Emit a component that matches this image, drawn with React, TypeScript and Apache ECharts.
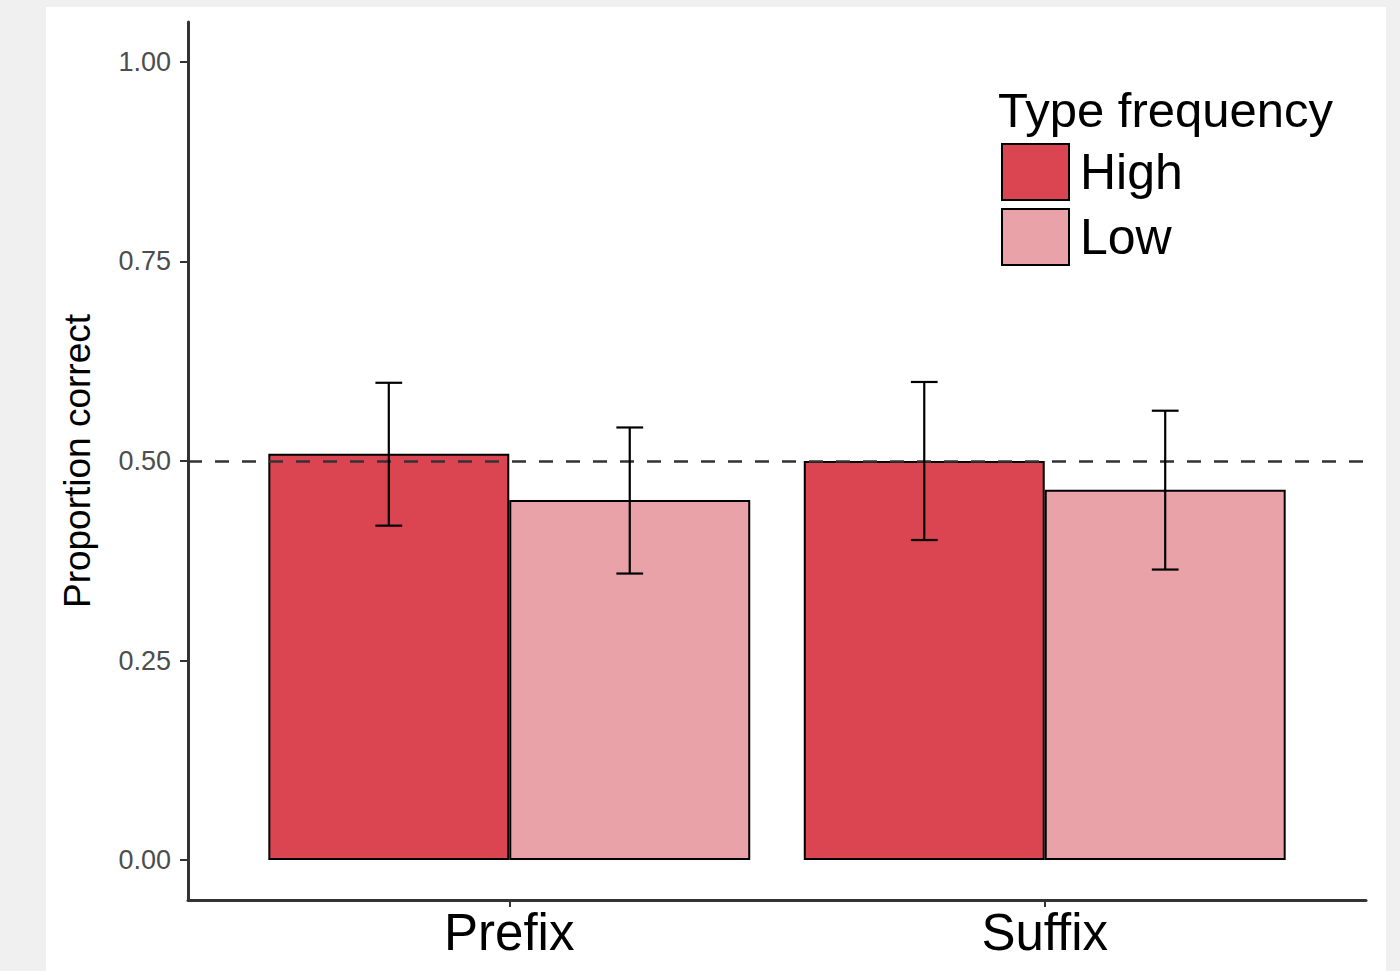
import React, { useEffect, useRef } from "react";
import * as echarts from "echarts";

const categories = ["Prefix", "Suffix"];
const seriesNames = ["High", "Low"];
const highValues = [0.509, 0.5];
const lowValues = [0.451, 0.464];
const highLower = [0.419, 0.401];
const highUpper = [0.598, 0.599];
const lowLower = [0.359, 0.364];
const lowUpper = [0.542, 0.563];
const yTicks = [0, 0.25, 0.5, 0.75, 1];
const chanceLevel = 0.5;

const CHART_W = 1340;
const CHART_H = 964;
const GRID = { left: 142, right: 20, top: 15, bottom: 71 };
const X_MIN = 0.4;
const X_MAX = 2.6;
const DODGE = 0.225;
const CAP = 0.025;
const FONT = "'Liberation Sans', Arial, sans-serif";

export default function App() {
  const ref = useRef<HTMLDivElement>(null);

  useEffect(() => {
    if (!ref.current) return;
    const chart = echarts.init(ref.current, null, { renderer: "svg" });
    const gridW = CHART_W - GRID.left - GRID.right;
    const barWidthPx = (gridW / (X_MAX - X_MIN)) * 2 * DODGE;

    const errData: number[][] = [];
    categories.forEach((_, i) => {
      errData.push([i + 1, highLower[i], highUpper[i], -DODGE]);
      errData.push([i + 1, lowLower[i], lowUpper[i], DODGE]);
    });

    const axisColor = "#333333";

    chart.setOption({
      animation: false,
      backgroundColor: "#ffffff",
      textStyle: { fontFamily: FONT },
      grid: { ...GRID },
      legend: {
        orient: "vertical",
        left: 950,
        top: 131,
        icon: "rect",
        itemWidth: 67,
        itemHeight: 56,
        itemGap: 7,
        data: seriesNames,
        textStyle: { fontSize: 50, color: "#000", fontFamily: FONT, padding: [0, 0, 0, 6] },
      },
      graphic: [
        {
          type: "text",
          left: 952,
          top: 78,
          style: {
            text: "Type frequency",
            font: `49px ${FONT}`,
            fill: "#000",
          },
        },
      ],
      xAxis: {
        type: "value",
        min: X_MIN,
        max: X_MAX,
        splitLine: { show: false },
        axisLine: { show: true, onZero: false, lineStyle: { color: axisColor, width: 3 } },
        axisTick: {
          show: true,
          customValues: categories.map((_, i) => i + 1),
          length: 7,
          lineStyle: { color: axisColor, width: 2 },
        },
        axisLabel: {
          customValues: categories.map((_, i) => i + 1),
          formatter: (v: number) => categories[Math.round(v) - 1] ?? "",
          fontSize: 51,
          color: "#000",
          margin: 7,
          fontFamily: FONT,
        },
      },
      yAxis: {
        type: "value",
        min: -0.05,
        max: 1.05,
        name: "Proportion correct",
        nameLocation: "middle",
        nameGap: 92,
        nameRotate: 90,
        nameTextStyle: { fontSize: 37, color: "#000", fontFamily: FONT },
        splitLine: { show: false },
        axisLine: { show: true, onZero: false, lineStyle: { color: axisColor, width: 3 } },
        axisTick: {
          show: true,
          customValues: yTicks,
          length: 8,
          lineStyle: { color: axisColor, width: 2 },
        },
        axisLabel: {
          customValues: yTicks,
          formatter: (v: number) => v.toFixed(2),
          fontSize: 27,
          color: "#4d4d4d",
          margin: 17,
          fontFamily: FONT,
        },
      },
      series: [
        {
          name: "High",
          type: "bar",
          barWidth: barWidthPx,
          barGap: "0%",
          data: categories.map((_, i) => [i + 1, highValues[i]]),
          itemStyle: { color: "#DB4451", borderColor: "#000", borderWidth: 2 },
        },
        {
          name: "Low",
          type: "bar",
          barWidth: barWidthPx,
          barGap: "0%",
          data: categories.map((_, i) => [i + 1, lowValues[i]]),
          itemStyle: { color: "#E9A3A8", borderColor: "#000", borderWidth: 2 },
        },
        {
          name: "errors",
          type: "custom",
          z: 10,
          encode: { x: 0, y: [1, 2] },
          data: errData,
          renderItem: (params: any, api: any) => {
            const x = api.value(0) + api.value(3);
            const lo = api.value(1);
            const hi = api.value(2);
            const top = api.coord([x, hi]);
            const bot = api.coord([x, lo]);
            const tl = api.coord([x - CAP, hi]);
            const tr = api.coord([x + CAP, hi]);
            const bl = api.coord([x - CAP, lo]);
            const br = api.coord([x + CAP, lo]);
            const style = { stroke: "#000", lineWidth: 2.2 };
            return {
              type: "group",
              children: [
                { type: "line", shape: { x1: top[0], y1: top[1], x2: bot[0], y2: bot[1] }, style },
                { type: "line", shape: { x1: tl[0], y1: tl[1], x2: tr[0], y2: tr[1] }, style },
                { type: "line", shape: { x1: bl[0], y1: bl[1], x2: br[0], y2: br[1] }, style },
              ],
            };
          },
          markLine: {
            silent: true,
            symbol: "none",
            label: { show: false },
            lineStyle: { type: [14, 13], color: "#333333", width: 2.5 },
            data: [{ yAxis: chanceLevel }],
          },
        },
      ],
    });

    return () => chart.dispose();
  }, []);

  return (
    <div
      style={{
        position: "fixed",
        left: 0,
        top: 0,
        width: 1400,
        height: 971,
        background: "#f0f0f0",
        overflow: "hidden",
      }}
    >
      <div
        ref={ref}
        style={{
          position: "absolute",
          left: 46,
          top: 7,
          width: CHART_W,
          height: CHART_H,
          background: "#ffffff",
        }}
      />
    </div>
  );
}
